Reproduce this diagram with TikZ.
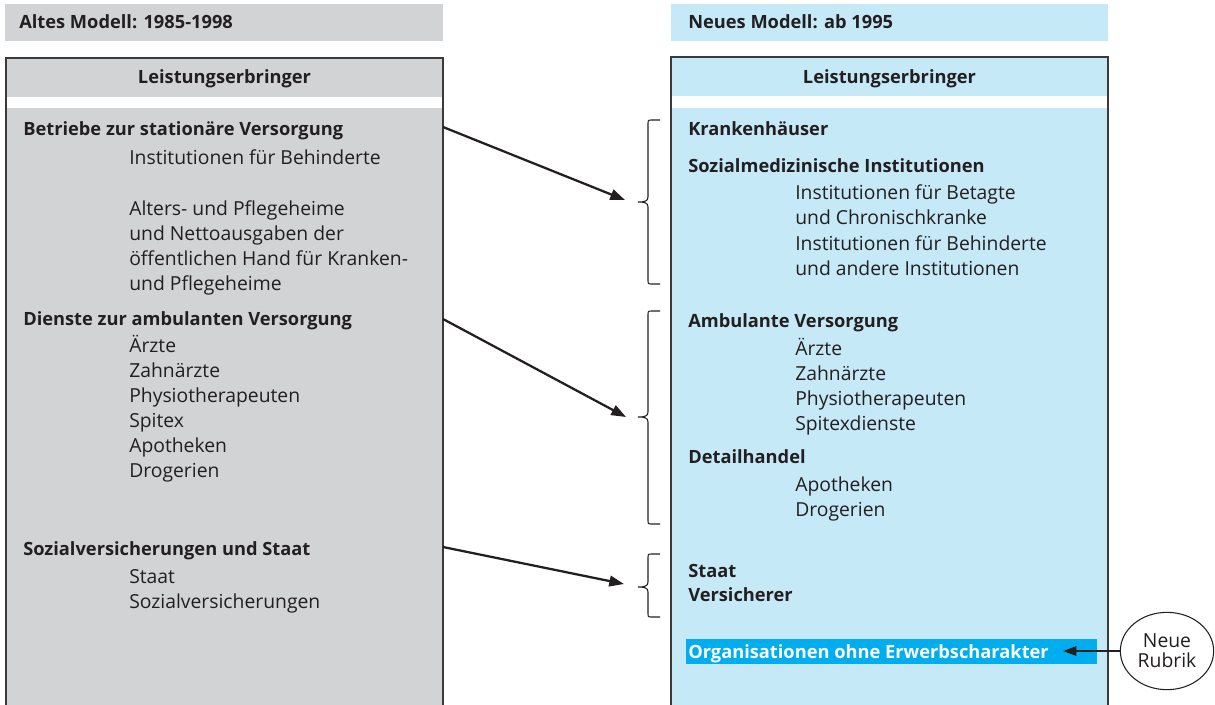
\documentclass[tikz,border=0pt]{standalone}
\usepackage{fontspec}
\setmainfont{Open Sans}
\usetikzlibrary{arrows.meta,shapes.geometric}
\definecolor{oldgray}{HTML}{D1D3D4}
\definecolor{newblue}{HTML}{C6E9F8}
\definecolor{cyanbar}{HTML}{00AEEF}
\definecolor{ink}{HTML}{231F20}
\definecolor{framec}{HTML}{3A3A3A}
\newcommand{\txtfont}{\fontsize{14.5}{16}\selectfont}
\newcommand{\bldfont}{\fontsize{13.7}{16}\selectfont\bfseries}
\begin{document}
\begin{tikzpicture}[x=0.75pt,y=-0.75pt,
  txt/.style={anchor=base west, inner sep=0pt, font=\txtfont, text=ink},
  bold/.style={txt, font=\bldfont},
  title/.style={anchor=base, inner sep=0pt, font=\bldfont, text=ink},
  boxframe/.style={draw=framec, line width=1.2pt},
  link/.style={draw=ink, line width=1.7pt, -{Triangle[length=11pt,width=8pt]}},
  bracec/.style={draw=ink, line width=0.8pt}]
\useasboundingbox (0,0) rectangle (1215,704);

% header bars
\fill[oldgray] (5,4) rectangle (443,41);
\node[bold] (oldhead) at (19,28) {Altes Modell: 1985-1998};
\fill[newblue] (671,4) rectangle (1108,41);
\node[bold] (newhead) at (688,28) {Neues Modell: ab 1995};

% left box: old model
\fill[oldgray] (6,58) rectangle (443,706);
\fill[white] (6,97) rectangle (443,108);
\draw[boxframe] (6,708) -- (6,58) -- (443,58) -- (443,708);
\node[title] (oldtitle) at (224.5,83) {Leistungserbringer};

\node[bold] (stat) at (23,135) {Betriebe zur stationäre Versorgung};
\node[txt] (o1) at (129,164) {Institutionen für Behinderte};
\node[txt] (o2) at (129,215) {Alters- und Pflegeheime};
\node[txt] (o3) at (129,240) {und Nettoausgaben der};
\node[txt] (o4) at (129,265) {öffentlichen Hand für Kranken-};
\node[txt] (o5) at (129,290) {und Pflegeheime};

\node[bold] (amb) at (23,325) {Dienste zur ambulanten Versorgung};
\node[txt] (o6) at (129,352) {Ärzte};
\node[txt] (o7) at (129,377) {Zahnärzte};
\node[txt] (o8) at (129,402) {Physiotherapeuten};
\node[txt] (o9) at (129,427) {Spitex};
\node[txt] (o10) at (129,452) {Apotheken};
\node[txt] (o11) at (129,477) {Drogerien};

\node[bold] (soz) at (23,555) {Sozialversicherungen und Staat};
\node[txt] (o12) at (129,583) {Staat};
\node[txt] (o13) at (129,608) {Sozialversicherungen};

% right box: new model
\fill[newblue] (671,57) rectangle (1108,706);
\fill[white] (671,96) rectangle (1108,108);
\draw[boxframe] (671,708) -- (671,57) -- (1108,57) -- (1108,708);
\node[title] (newtitle) at (889.5,83) {Leistungserbringer};

\node[bold] (kh) at (688,135) {Krankenhäuser};
\node[bold] (smi) at (688,172) {Sozialmedizinische Institutionen};
\node[txt] (n1) at (795,199) {Institutionen für Betagte};
\node[txt] (n2) at (795,224) {und Chronischkranke};
\node[txt] (n3) at (795,250) {Institutionen für Behinderte};
\node[txt] (n4) at (795,275) {und andere Institutionen};

\node[bold] (av) at (688,327) {Ambulante Versorgung};
\node[txt] (n5) at (795,355) {Ärzte};
\node[txt] (n6) at (795,380) {Zahnärzte};
\node[txt] (n7) at (795,405) {Physiotherapeuten};
\node[txt] (n8) at (795,430) {Spitexdienste};
\node[bold] (dh) at (688,463) {Detailhandel};
\node[txt] (n9) at (795,491) {Apotheken};
\node[txt] (n10) at (795,516) {Drogerien};

\node[bold] (st) at (688,577) {Staat};
\node[bold] (vs) at (688,601) {Versicherer};

\fill[cyanbar] (686,639) rectangle (1097,664);
\node[bold, text=white] (ooe) at (688,658) {Organisationen ohne Erwerbscharakter};

% braces grouping the new categories
\foreach \T/\M/\B/\n in {120/202/284/b1, 311/417/524/b2, 554/587/617/b3} {
  \draw[bracec] (660,\T) -- (652,\T) .. controls (648,\T) .. (648,\T+4)
    -- (648,\M-5) .. controls (648,\M-1) and (645,\M) .. (638,\M)
    .. controls (645,\M) and (648,\M+1) .. (648,\M+5)
    -- (648,\B-4) .. controls (648,\B) .. (652,\B) -- (660,\B);
}

% connectors from old to new groups
\coordinate (s1) at (443,127);
\coordinate (t1) at (625,200);
\coordinate (s2) at (443,319);
\coordinate (t2) at (626,417);
\coordinate (s3) at (443,547);
\coordinate (t3) at (624,584);
\draw[link] (s1) -- (t1);
\draw[link] (s2) -- (t2);
\draw[link] (s3) -- (t3);

% new category marker
\node[ellipse, draw=ink, line width=0.8pt, fill=white, minimum width=70pt, minimum height=58pt,
      inner sep=0pt, align=center, font=\txtfont, text=ink] (rub) at (1167,651) {Neue\\[-1pt]Rubrik};
\coordinate (orgend) at (1063,651);
\draw[draw=ink, line width=1.4pt, -{Triangle[length=10pt,width=7pt]}] (rub.west) -- (orgend);
\end{tikzpicture}
\end{document}
